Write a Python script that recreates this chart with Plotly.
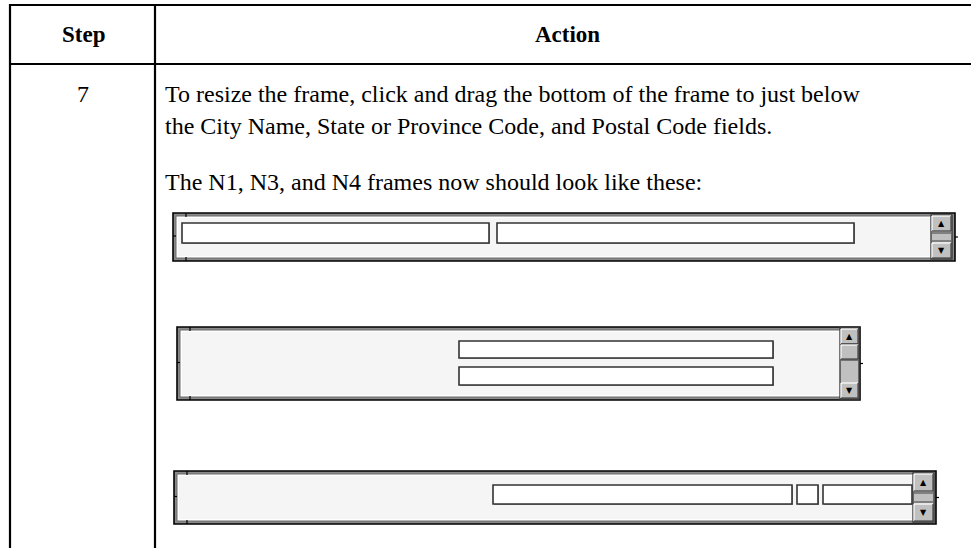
import plotly.graph_objects as go

# ---- content (text) ----
header_labels = ["Step", "Action"]
step_numbers = ["7"]
instruction_lines = [
    "To resize the frame, click and drag the bottom of the frame to just below",
    "the City Name, State or Province Code, and Postal Code fields.",
]
result_line = "The N1, N3, and N4 frames now should look like these:"
frame_names = ["N1", "N3", "N4"]

# ---- geometry of the screenshot mock-ups (layout, not data) ----
W, H = 971, 548
frames_geom = {
    "N1": dict(box=(173, 213, 955, 261),
               fields=[(182, 223, 489, 243), (497, 223, 854, 243)],
               sb=(932, 216, 951, 258), thumb=None),
    "N3": dict(box=(177, 327, 860, 400),
               fields=[(459, 341, 773, 358), (459, 367, 773, 385)],
               sb=(841, 329, 858, 398), thumb=(345, 359)),
    "N4": dict(box=(174, 471, 936, 524),
               fields=[(493, 485, 792, 504), (797, 485, 818, 504), (823, 485, 912, 504)],
               sb=(914, 474, 933, 521), thumb=None),
}

shapes = []
annotations = []


def rect(x0, y0, x1, y1, fill=None, line="black", lw=1.0):
    shapes.append(dict(type="rect", xref="x", yref="y", x0=x0, y0=y0, x1=x1, y1=y1,
                       fillcolor=fill if fill else "rgba(0,0,0,0)",
                       line=dict(color=line, width=lw), layer="above"))


def seg(x0, y0, x1, y1, color="black", lw=1.0):
    shapes.append(dict(type="line", xref="x", yref="y", x0=x0, y0=y0, x1=x1, y1=y1,
                       line=dict(color=color, width=lw), layer="above"))


def button(x0, y0, x1, y1, glyph=None):
    rect(x0, y0, x1, y1, fill="#c0c0c0", line="#c0c0c0", lw=0)
    seg(x0, y0, x1, y0, "white", 1.2)
    seg(x0, y0, x0, y1, "white", 1.2)
    seg(x0, y1, x1, y1, "#404040", 1.2)
    seg(x1, y0, x1, y1, "#404040", 1.2)
    if glyph:
        annotations.append(dict(x=(x0 + x1) / 2, y=(y0 + y1) / 2, xref="x", yref="y",
                                text=glyph, showarrow=False,
                                font=dict(family="DejaVu Sans", size=8, color="black")))


# ---- table grid ----
seg(10, 5, 1000, 5, lw=2.2)
seg(10, 64, 1000, 64, lw=2.2)
seg(10, 4, 10, 560, lw=2.2)
seg(155, 4, 155, 560, lw=2.2)

# ---- table text ----
serif = "Liberation Serif"
annotations.append(dict(x=83, y=34, text="<b>%s</b>" % header_labels[0], showarrow=False,
                        xref="x", yref="y", font=dict(family=serif, size=23, color="black")))
annotations.append(dict(x=567, y=34, text="<b>%s</b>" % header_labels[1], showarrow=False,
                        xref="x", yref="y", font=dict(family=serif, size=23, color="black")))
annotations.append(dict(x=83, y=94, text=step_numbers[0], showarrow=False,
                        xref="x", yref="y", font=dict(family=serif, size=24, color="black")))
for i, ln in enumerate(instruction_lines):
    annotations.append(dict(x=163, y=94 + 31.5 * i, text=ln, showarrow=False, xanchor="left",
                            xref="x", yref="y", font=dict(family=serif, size=24, color="black")))
annotations.append(dict(x=163, y=182, text=result_line, showarrow=False, xanchor="left",
                        xref="x", yref="y", font=dict(family=serif, size=24, color="black")))

# ---- frame mock-ups ----
for name in frame_names:
    g = frames_geom[name]
    x0, y0, x1, y1 = g["box"]
    rect(x0, y0, x1, y1, fill="#8a8a8a", line="black", lw=1.6)
    rect(x0 + 3, y0 + 3, x1 - 3, y1 - 3, fill="white", line="#6a6a6a", lw=1)
    rect(x0 + 5, y0 + 5, x1 - 4, y1 - 5, fill="#f5f5f5", line="#f5f5f5", lw=0)
    # small resize ticks on the border
    seg(x0 + 13, y0, x0 + 13, y0 + 4, "black", 1.2)
    seg(x0 + 13, y1 - 4, x0 + 13, y1, "black", 1.2)
    ym = (y0 + y1) / 2
    seg(x0, ym - 1, x0 + 3, ym - 1, "black", 1.2)
    seg(x1, ym, x1 + 3, ym, "black", 1.2)
    # fields
    for fx0, fy0, fx1, fy1 in g["fields"]:
        rect(fx0 + 1, fy0 + 1, fx1 + 1, fy1 + 1, fill="#9a9a9a", line="#9a9a9a", lw=0)
        rect(fx0, fy0, fx1, fy1, fill="white", line="#333333", lw=1.6)
    # scrollbar
    sx0, sy0, sx1, sy1 = g["sb"]
    rect(sx0 - 1, sy0 - 1, sx1 + 1, sy1 + 1, fill="#c0c0c0", line="#404040", lw=1.4)
    bh = 15 if name != "N4" else 17
    button(sx0, sy0, sx1, sy0 + bh, "▲")
    button(sx0, sy1 - bh, sx1, sy1, "▼")
    if g["thumb"]:
        ty0, ty1 = g["thumb"]
        seg(sx0, ty0 - 1, sx1, ty0 - 1, "#404040", 1.2)
        button(sx0, ty0, sx1, ty1)
        seg(sx0, ty1 + 1, sx1, ty1 + 1, "#404040", 1.2)
    else:
        seg(sx0, sy0 + bh + 2, sx1, sy0 + bh + 2, "#404040", 1)
        seg(sx0, sy1 - bh - 2, sx1, sy1 - bh - 2, "#404040", 1)

fig = go.Figure()
fig.add_trace(go.Scatter(x=[0, W], y=[0, H], mode="markers", marker=dict(opacity=0),
                         hoverinfo="skip", showlegend=False))
fig.update_layout(
    width=W, height=H, margin=dict(l=0, r=0, t=0, b=0),
    paper_bgcolor="white", plot_bgcolor="white",
    xaxis=dict(range=[0, W], visible=False, fixedrange=True),
    yaxis=dict(range=[H, 0], visible=False, fixedrange=True),
    shapes=shapes, annotations=annotations, showlegend=False,
)
fig.write_html("out.html", config={"displayModeBar": False},
               post_script="document.body.style.margin='0';document.body.style.overflow='hidden';")
